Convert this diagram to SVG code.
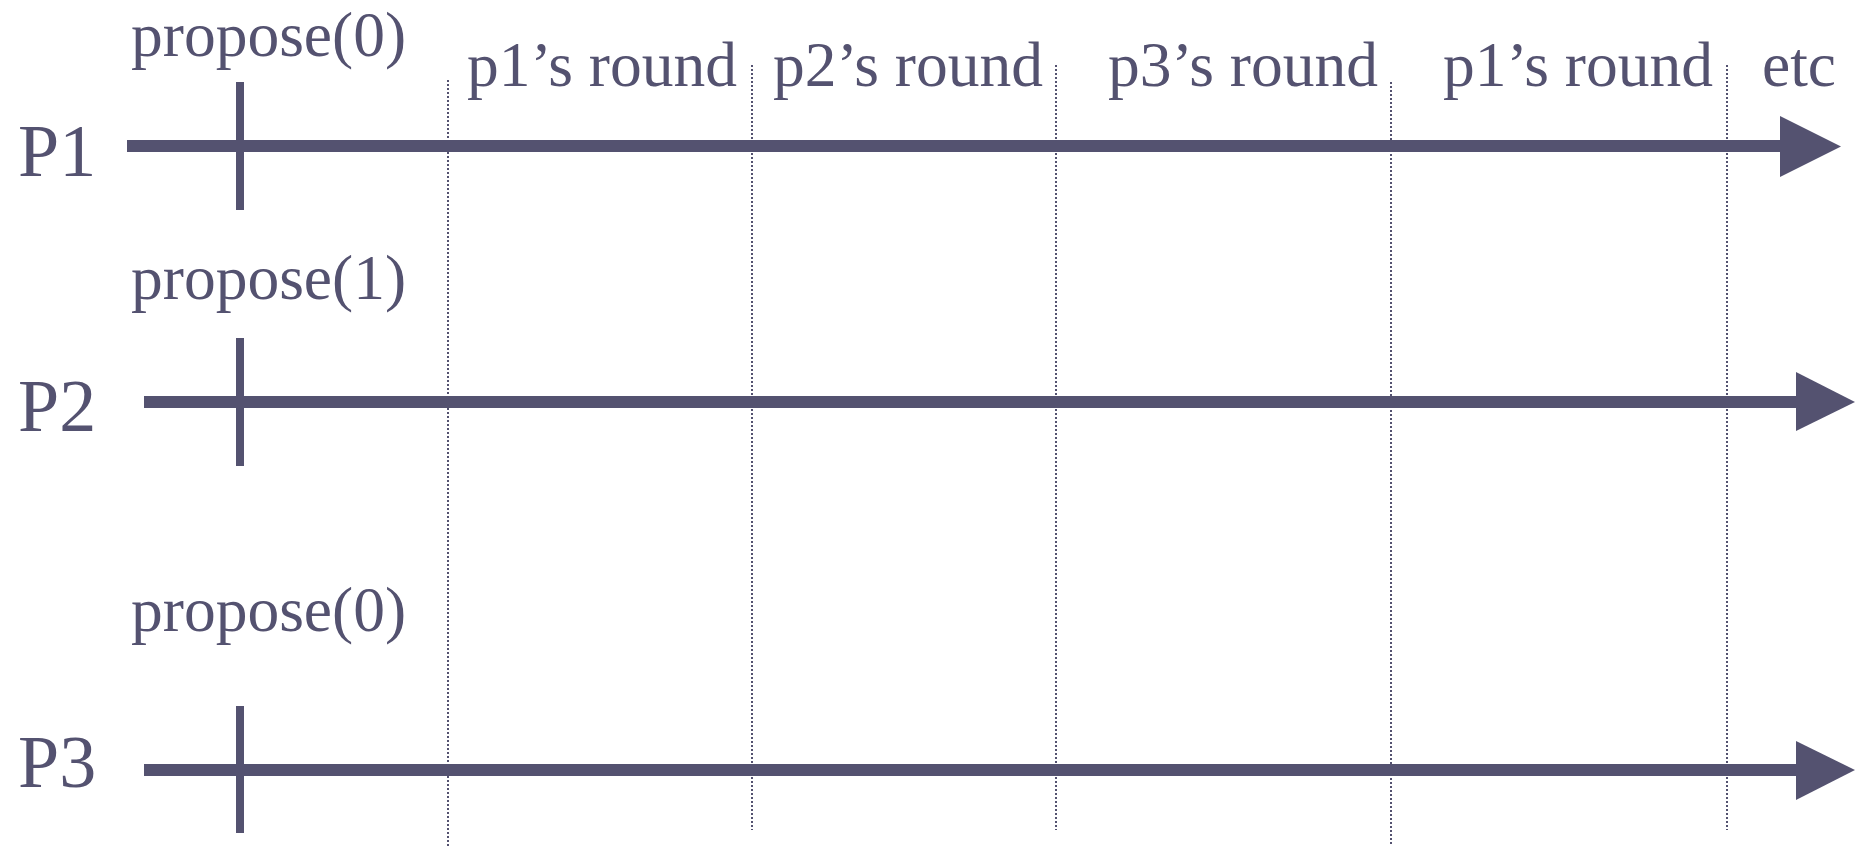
<svg xmlns="http://www.w3.org/2000/svg" width="1866" height="846" viewBox="0 0 1866 846">
<style>
.t{font-family:"Liberation Serif","Times New Roman",serif;fill:#545270}
.lbl{font-size:63.5px}
.pl{font-size:74px}
.axis{stroke:#545270;stroke-width:12;fill:none}
.tick{stroke:#545270;stroke-width:8;fill:none}
.head{fill:#545270}
.dot{stroke:#545270;stroke-width:2;stroke-dasharray:2 2;fill:none}
</style>
<rect width="1866" height="846" fill="#ffffff"/>
<g id="dividers">
<line class="dot" x1="448" y1="80" x2="448" y2="846"/>
<line class="dot" x1="752" y1="65" x2="752" y2="830"/>
<line class="dot" x1="1056" y1="65" x2="1056" y2="830"/>
<line class="dot" x1="1391" y1="82" x2="1391" y2="846"/>
<line class="dot" x1="1727" y1="65" x2="1727" y2="830"/>
</g>
<g id="round-labels">
<text class="t lbl" x="467" y="86">p1’s round</text>
<text class="t lbl" x="773" y="86">p2’s round</text>
<text class="t lbl" x="1108" y="86">p3’s round</text>
<text class="t lbl" x="1443" y="86">p1’s round</text>
<text class="t lbl" x="1762" y="86">etc</text>
</g>
<g id="P1">
<text class="t pl" x="18" y="176">P1</text>
<text class="t lbl" x="131" y="56">propose(0)</text>
<line class="axis" x1="127" y1="146" x2="1782" y2="146"/>
<polygon class="head" points="1780,116 1841,146.5 1780,177"/>
<line class="tick" x1="240" y1="82" x2="240" y2="210"/>
</g>
<g id="P2">
<text class="t pl" x="18" y="431">P2</text>
<text class="t lbl" x="131" y="299">propose(1)</text>
<line class="axis" x1="144" y1="402" x2="1798" y2="402"/>
<polygon class="head" points="1796,372 1855,402 1796,431"/>
<line class="tick" x1="240" y1="338" x2="240" y2="466"/>
</g>
<g id="P3">
<text class="t pl" x="18" y="787">P3</text>
<text class="t lbl" x="131" y="631">propose(0)</text>
<line class="axis" x1="144" y1="770" x2="1798" y2="770"/>
<polygon class="head" points="1796,741 1855,770 1796,800"/>
<line class="tick" x1="240" y1="706" x2="240" y2="833"/>
</g>
</svg>
